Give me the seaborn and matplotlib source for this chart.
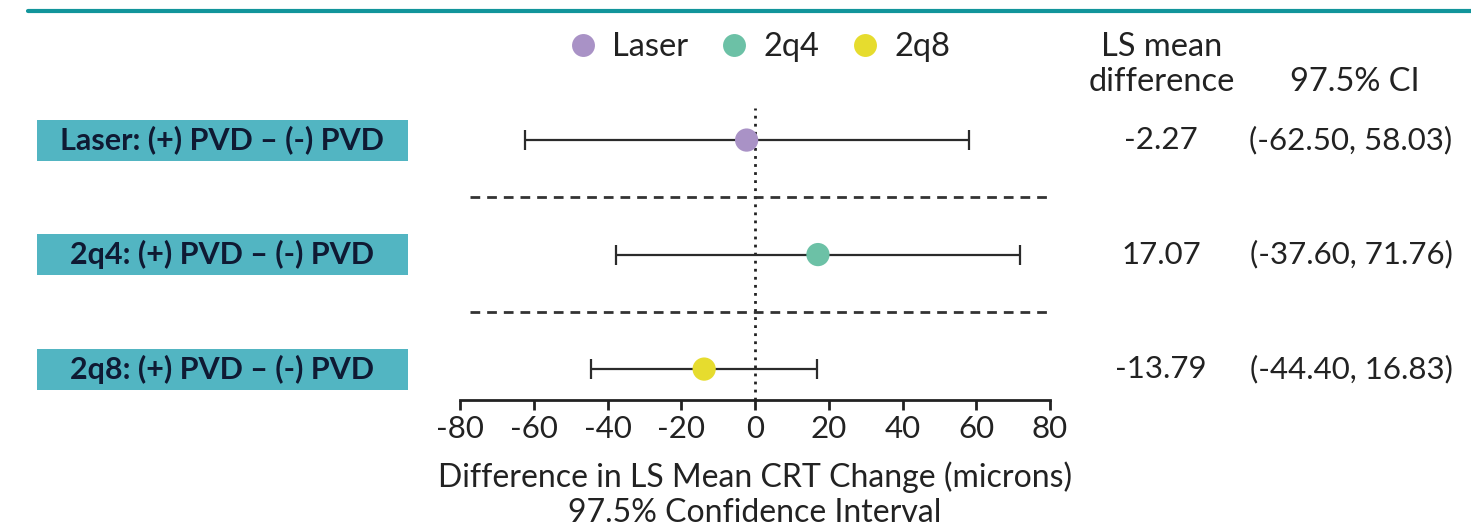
import matplotlib
matplotlib.use("Agg")
import matplotlib.pyplot as plt
import matplotlib.transforms as mtransforms
from matplotlib.patches import Rectangle
from matplotlib.lines import Line2D
import seaborn as sns
import pandas as pd
import numpy as np

# ---- data ----
groups = ["Laser", "2q4", "2q8"]
row_labels = ["Laser: (+) PVD – (-) PVD", "2q4: (+) PVD – (-) PVD", "2q8: (+) PVD – (-) PVD"]
ls_mean = [-2.27, 17.07, -13.79]
ci_low = [-62.50, -37.60, -44.40]
ci_high = [58.03, 71.76, 16.83]
xticks = [-80, -60, -40, -20, 0, 20, 40, 60, 80]
colors = ["#A992C6", "#6CC1A6", "#E6DC2E"]

sns.set_theme(style="white")
plt.rcParams["font.family"] = ["Lato", "DejaVu Sans"]

df = pd.DataFrame({"group": groups, "mean": ls_mean, "lo": ci_low, "hi": ci_high,
                   "row": np.arange(len(groups))})

W, H = 1471, 529
TXT = "#222222"
fig = plt.figure(figsize=(W / 100, H / 100), dpi=100)
ax = fig.add_axes([460 / W, (H - 400) / H, 590 / W, (400 - 108) / H])

# error bars
ax.errorbar(df["mean"], df["row"],
            xerr=[df["mean"] - df["lo"], df["hi"] - df["mean"]],
            fmt="none", ecolor="#2b2b2b", elinewidth=1.6, capsize=7.5, capthick=1.6, zorder=2)

sns.scatterplot(data=df, x="mean", y="row", hue="group", palette=colors,
                s=280, edgecolor="none", ax=ax, zorder=3, legend=False)

ax.set_xlim(-80, 80)
ax.set_ylim(2.27, -0.28)
ax.axvline(0, color="#222222", ls=(0, (1, 1.9)), lw=2, zorder=1)
for yv in [0.5, 1.5]:
    ax.axhline(yv, xmin=0.017, xmax=1.005, color="#333333", ls=(0, (3.5, 2.5)), lw=2,
               clip_on=False)

for s in ["top", "right", "left"]:
    ax.spines[s].set_visible(False)
ax.spines["bottom"].set_color("#222222")
ax.spines["bottom"].set_linewidth(2)
ax.set_xticks(xticks)
ax.set_xticklabels([str(t) for t in xticks])
ax.set_yticks([])
ax.tick_params(axis="x", direction="out", length=7, width=2, color="#222222",
               labelsize=22.5, labelcolor=TXT, pad=4, bottom=True)
ax.set_xlabel("Difference in LS Mean CRT Change (microns)\n97.5% Confidence Interval",
              fontsize=23, color=TXT, labelpad=13, linespacing=1.2)
ax.set_ylabel("")

# left labels in boxes + right-hand value columns
bt = mtransforms.blended_transform_factory(fig.transFigure, ax.transData)
box_h = 41 / 114.5
for i, lab in enumerate(row_labels):
    ax.add_patch(Rectangle((37 / W, i - box_h / 2), 371 / W, box_h, transform=bt,
                           facecolor="#52B5C2", edgecolor="none", clip_on=False))
    ax.text(222 / W, i, lab, transform=bt, ha="center", va="center",
            fontsize=22, fontweight="bold", color="#0F1A33")
    ax.text(1161 / W, i, f"{ls_mean[i]:.2f}", transform=bt, ha="center", va="center",
            fontsize=22.5, color=TXT)
    ax.text(1351 / W, i, f"({ci_low[i]:.2f}, {ci_high[i]:.2f})", transform=bt,
            ha="center", va="center", fontsize=22.5, color=TXT)

# headers
fig.text(1162 / W, 1 - 47 / H, "LS mean", ha="center", va="center", fontsize=23.5, color=TXT)
fig.text(1162 / W, 1 - 82 / H, "difference", ha="center", va="center", fontsize=23.5, color=TXT)
fig.text(1355 / W, 1 - 82 / H, "97.5% CI", ha="center", va="center", fontsize=23.5, color=TXT)

# legend
handles = [Line2D([], [], marker="o", ls="", markersize=16.5, markerfacecolor=c,
                  markeredgecolor="none") for c in colors]
fig.legend(handles, groups, loc="center", bbox_to_anchor=(757 / W, 1 - 47 / H), ncol=3,
           frameon=False, fontsize=23.5, handletextpad=0.3, columnspacing=0.8,
           handlelength=1.2, labelcolor=TXT)

# top rule
fig.add_artist(Line2D([28 / W, 1.0], [1 - 11 / H, 1 - 11 / H], transform=fig.transFigure,
                      color="#12959B", lw=3))

fig.savefig("out.png", dpi=100)
